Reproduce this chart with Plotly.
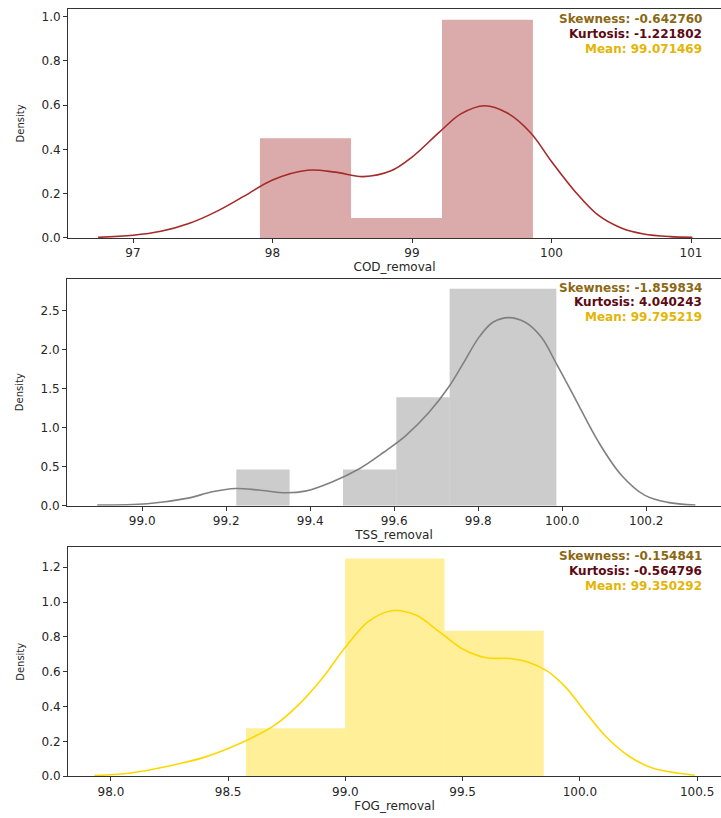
import plotly.graph_objects as go

# ---- histogram bins (edges) and densities ----
cod_edges = [97.910, 98.563, 99.215, 99.867]
cod_density = [0.45, 0.09, 0.985]

tss_edges = [99.224, 99.351, 99.478, 99.605, 99.732, 99.859, 99.986]
tss_density = [0.463, 0.0, 0.463, 1.39, 2.78, 2.78]

fog_edges = [98.576, 98.999, 99.423, 99.846]
fog_density = [0.275, 1.25, 0.835]

# ---- kernel density curves ----
cod_kde_x = [96.75, 97.0, 97.2, 97.4, 97.6, 97.8, 98.0, 98.25, 98.45, 98.65,
             98.85, 99.0, 99.2, 99.35, 99.52, 99.68, 99.85, 100.0, 100.17,
             100.33, 100.5, 100.66, 100.85, 101.01]
cod_kde_y = [0.003, 0.012, 0.03, 0.065, 0.12, 0.19, 0.262, 0.306, 0.297, 0.277,
             0.303, 0.365, 0.48, 0.56, 0.597, 0.565, 0.475, 0.345, 0.209,
             0.105, 0.045, 0.018, 0.006, 0.003]

tss_kde_x = [98.893, 99.012, 99.106, 99.167, 99.222, 99.277, 99.342, 99.388, 99.452,
             99.517, 99.575, 99.627, 99.682, 99.731, 99.764, 99.802, 99.835, 99.873,
             99.912, 99.95, 99.988, 100.032, 100.087, 100.141, 100.196, 100.251, 100.317]
tss_kde_y = [0.008, 0.025, 0.093, 0.177, 0.22, 0.20, 0.165, 0.186, 0.304,
             0.473, 0.684, 0.895, 1.19, 1.53, 1.82, 2.16, 2.35, 2.41,
             2.35, 2.16, 1.80, 1.36, 0.81, 0.39, 0.135, 0.042, 0.008]

fog_kde_x = [97.93, 98.1, 98.3, 98.4, 98.5, 98.6, 98.7, 98.8, 98.9, 99.0,
             99.1, 99.2, 99.3, 99.4, 99.5, 99.6, 99.7, 99.78, 99.86, 99.94,
             100.02, 100.11, 100.21, 100.31, 100.49]
fog_kde_y = [0.004, 0.022, 0.075, 0.11, 0.16, 0.22, 0.295, 0.41, 0.56, 0.74,
             0.89, 0.95, 0.925, 0.83, 0.73, 0.68, 0.676, 0.655, 0.605, 0.51,
             0.375, 0.23, 0.115, 0.047, 0.006]

# ---- summary statistics ----
cod_stats = ["Skewness: -0.642760", "Kurtosis: -1.221802", "Mean: 99.071469"]
tss_stats = ["Skewness: -1.859834", "Kurtosis: 4.040243", "Mean: 99.795219"]
fog_stats = ["Skewness: -0.154841", "Kurtosis: -0.564796", "Mean: 99.350292"]

# ---- axis ticks ----
cod_xticks = [97, 98, 99, 100, 101]
tss_xticks = [99.0, 99.2, 99.4, 99.6, 99.8, 100.0, 100.2]
fog_xticks = [98.0, 98.5, 99.0, 99.5, 100.0, 100.5]
cod_yticks = [0.0, 0.2, 0.4, 0.6, 0.8, 1.0]
tss_yticks = [0.0, 0.5, 1.0, 1.5, 2.0, 2.5]
fog_yticks = [0.0, 0.2, 0.4, 0.6, 0.8, 1.0, 1.2]

W, H = 721, 818
FONT = "DejaVu Sans"
stat_colors = ["#8B6914", "#5C0A14", "#E3B505"]

panels = [
    dict(name="COD_removal", edges=cod_edges, dens=cod_density, kx=cod_kde_x, ky=cod_kde_y,
         stats=cod_stats, xticks=cod_xticks, yticks=cod_yticks, xfmt=None,
         xrange=[96.534, 101.215], yrange=[0, 1.034],
         fill="rgba(165,42,42,0.4)", line="rgb(165,42,42)",
         top=9, bottom=240, left=68, text_y=[19, 34, 49]),
    dict(name="TSS_removal", edges=tss_edges, dens=tss_density, kx=tss_kde_x, ky=tss_kde_y,
         stats=tss_stats, xticks=tss_xticks, yticks=tss_yticks, xfmt=".1f",
         xrange=[98.821, 100.378], yrange=[0, 2.91],
         fill="rgba(128,128,128,0.4)", line="rgb(128,128,128)",
         top=281, bottom=510, left=67, text_y=[290, 305, 320]),
    dict(name="FOG_removal", edges=fog_edges, dens=fog_density, kx=fog_kde_x, ky=fog_kde_y,
         stats=fog_stats, xticks=fog_xticks, yticks=fog_yticks, xfmt=".1f",
         xrange=[97.817, 100.602], yrange=[0, 1.314],
         fill="rgba(255,215,0,0.4)", line="rgb(255,215,0)",
         top=552, bottom=783, left=68, text_y=[561, 576, 591]),
]

fig = go.Figure()
annotations = []
layout_axes = {}

for i, p in enumerate(panels, start=1):
    xa = "x" if i == 1 else f"x{i}"
    ya = "y" if i == 1 else f"y{i}"
    centers = [(a + b) / 2 for a, b in zip(p["edges"][:-1], p["edges"][1:])]
    widths = [b - a for a, b in zip(p["edges"][:-1], p["edges"][1:])]

    fig.add_trace(go.Bar(
        x=centers, y=p["dens"], width=widths, xaxis=xa, yaxis=ya,
        marker=dict(color=p["fill"], line=dict(width=0)),
        showlegend=False, hoverinfo="skip",
    ))
    fig.add_trace(go.Scatter(
        x=p["kx"], y=p["ky"], mode="lines", xaxis=xa, yaxis=ya,
        line=dict(color=p["line"], width=1.6, shape="spline", smoothing=1.0),
        showlegend=False, hoverinfo="skip",
    ))

    xkey = "xaxis" if i == 1 else f"xaxis{i}"
    ykey = "yaxis" if i == 1 else f"yaxis{i}"
    layout_axes[xkey] = dict(
        domain=[p["left"] / W, 1.0], anchor=ya, range=p["xrange"],
        tickmode="array", tickvals=p["xticks"],
        ticktext=[(f"{v:.1f}" if p["xfmt"] else f"{v:g}") for v in p["xticks"]],
        showline=True, linecolor="#333333", linewidth=1, mirror=True,
        ticks="outside", ticklen=4, tickwidth=1, tickcolor="#333333",
        showgrid=False, zeroline=False,
        tickfont=dict(family=FONT, size=12, color="#262626"),
        title=dict(text=p["name"], font=dict(family=FONT, size=12, color="#262626"), standoff=3),
    )
    layout_axes[ykey] = dict(
        domain=[1 - p["bottom"] / H, 1 - p["top"] / H], anchor=xa, range=p["yrange"],
        tickmode="array", tickvals=p["yticks"],
        ticktext=[f"{v:.1f}" for v in p["yticks"]],
        showline=True, linecolor="#333333", linewidth=1, mirror=False,
        ticks="outside", ticklen=4, tickwidth=1, tickcolor="#333333",
        showgrid=False, zeroline=False,
        tickfont=dict(family=FONT, size=12, color="#262626"),
        title=dict(text="Density", font=dict(family=FONT, size=10, color="#262626"), standoff=14),
    )

    for txt, col, ty in zip(p["stats"], stat_colors, p["text_y"]):
        annotations.append(dict(
            text=f"<b>{txt}</b>", x=703 / W, y=1 - ty / H, xref="paper", yref="paper",
            xanchor="right", yanchor="middle", showarrow=False,
            font=dict(family=FONT, size=12, color=col),
            bgcolor="white", borderpad=0,
        ))

fig.update_layout(
    width=W, height=H, margin=dict(l=0, r=0, t=0, b=0),
    paper_bgcolor="white", plot_bgcolor="white",
    barmode="overlay", showlegend=False,
    annotations=annotations, **layout_axes,
)

fig.write_html("out.html")
